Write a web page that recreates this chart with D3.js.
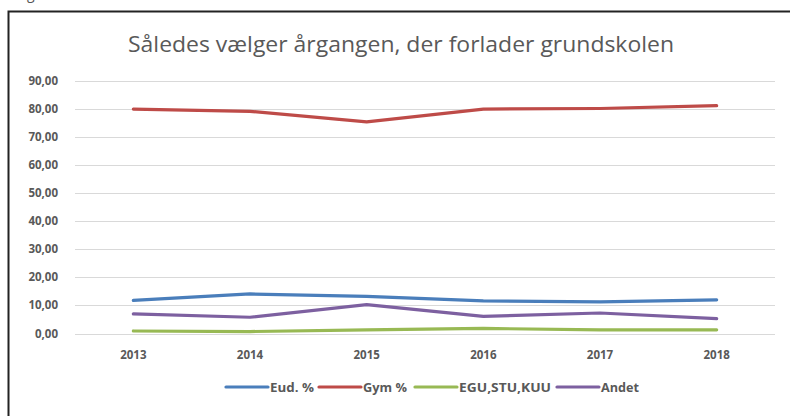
<!DOCTYPE html>
<html lang="da">
<head>
    <meta charset="UTF-8">
    <title>Således vælger årgangen</title>
    <script src="https://d3js.org/d3.v7.min.js"></script>
    <style>
        body { margin: 0; background: #fff; }
        svg { display: block; font-family: "Open Sans", sans-serif; }
    </style>
</head>
<body>
    <div id="chart"></div>
    <script>
        // Data
        const years = ["2013", "2014", "2015", "2016", "2017", "2018"];
        const eud = [11.8, 14.1, 13.2, 11.6, 11.3, 12.0];
        const gym = [80.0, 79.2, 75.4, 80.0, 80.2, 81.2];
        const egu = [0.9, 0.7, 1.3, 1.8, 1.3, 1.3];
        const andet = [7.0, 5.8, 10.3, 6.1, 7.3, 5.3];
        const yTicks = [0, 10, 20, 30, 40, 50, 60, 70, 80, 90];

        const series = [
            { name: "Eud. %", values: eud, color: "#4a7ebb" },
            { name: "Gym %", values: gym, color: "#be4b48" },
            { name: "EGU,STU,KUU", values: egu, color: "#98b954" },
            { name: "Andet", values: andet, color: "#7d60a0" }
        ];

        const width = 790, height = 416;
        const svg = d3.select("#chart").append("svg")
            .attr("width", width)
            .attr("height", height);

        // cropped frame (only top and left edge visible)
        svg.append("path")
            .attr("d", `M8.5,${height} V11.5 H${width}`)
            .attr("fill", "none")
            .attr("stroke", "#222")
            .attr("stroke-width", 2);

        // descender of a caption letter cut off at the top
        svg.append("text")
            .attr("x", 27).attr("y", -1)
            .attr("font-size", 14)
            .attr("fill", "#555")
            .text("g");

        // title
        svg.append("text")
            .attr("x", 401).attr("y", 52)
            .attr("text-anchor", "middle")
            .attr("font-size", 21)
            .attr("fill", "#595959")
            .attr("textLength", 546)
            .attr("lengthAdjust", "spacingAndGlyphs")
            .text("Således vælger årgangen, der forlader grundskolen");

        const x = d3.scaleBand().domain(years).range([75, 775]);
        const y = d3.scaleLinear().domain([0, 90]).range([333.5, 81]);

        // gridlines
        svg.append("g")
            .selectAll("line")
            .data(yTicks)
            .join("line")
            .attr("x1", 75).attr("x2", 775)
            .attr("y1", d => Math.round(y(d)) + 0.5)
            .attr("y2", d => Math.round(y(d)) + 0.5)
            .attr("stroke", "#d9d9d9")
            .attr("stroke-width", 1.2);

        // y axis labels
        svg.append("g")
            .selectAll("text")
            .data(yTicks)
            .join("text")
            .attr("x", 58)
            .attr("y", d => y(d) + 4)
            .attr("text-anchor", "end")
            .attr("font-size", 11.5)
            .attr("font-weight", "bold")
            .attr("fill", "#595959")
            .text(d => d3.format(".2f")(d).replace(".", ","));

        // x axis labels
        svg.append("g")
            .selectAll("text")
            .data(years)
            .join("text")
            .attr("x", d => x(d) + x.bandwidth() / 2)
            .attr("y", 359)
            .attr("text-anchor", "middle")
            .attr("font-size", 11.5)
            .attr("font-weight", "bold")
            .attr("fill", "#595959")
            .text(d => d);

        // lines
        const line = d3.line()
            .x((d, i) => x(years[i]) + x.bandwidth() / 2)
            .y(d => y(d));

        svg.append("g")
            .selectAll("path")
            .data(series)
            .join("path")
            .attr("d", d => line(d.values))
            .attr("fill", "none")
            .attr("stroke", d => d.color)
            .attr("stroke-width", 3.2)
            .attr("stroke-linejoin", "round")
            .attr("stroke-linecap", "round");

        // legend
        const legendX = [226, 319, 415, 557];
        const legendW = [44, 44, 92, 38];
        const legend = svg.append("g")
            .selectAll("g")
            .data(series)
            .join("g")
            .attr("transform", (d, i) => `translate(${legendX[i]},387)`);

        legend.append("line")
            .attr("x1", 0).attr("x2", 42)
            .attr("stroke", d => d.color)
            .attr("stroke-width", 3.2)
            .attr("stroke-linecap", "round");

        legend.append("text")
            .attr("x", 44)
            .attr("y", 4.5)
            .attr("font-size", 11.5)
            .attr("font-weight", "bold")
            .attr("fill", "#595959")
            .attr("textLength", (d, i) => legendW[i])
            .attr("lengthAdjust", "spacingAndGlyphs")
            .text(d => d.name);
    </script>
</body>
</html>
